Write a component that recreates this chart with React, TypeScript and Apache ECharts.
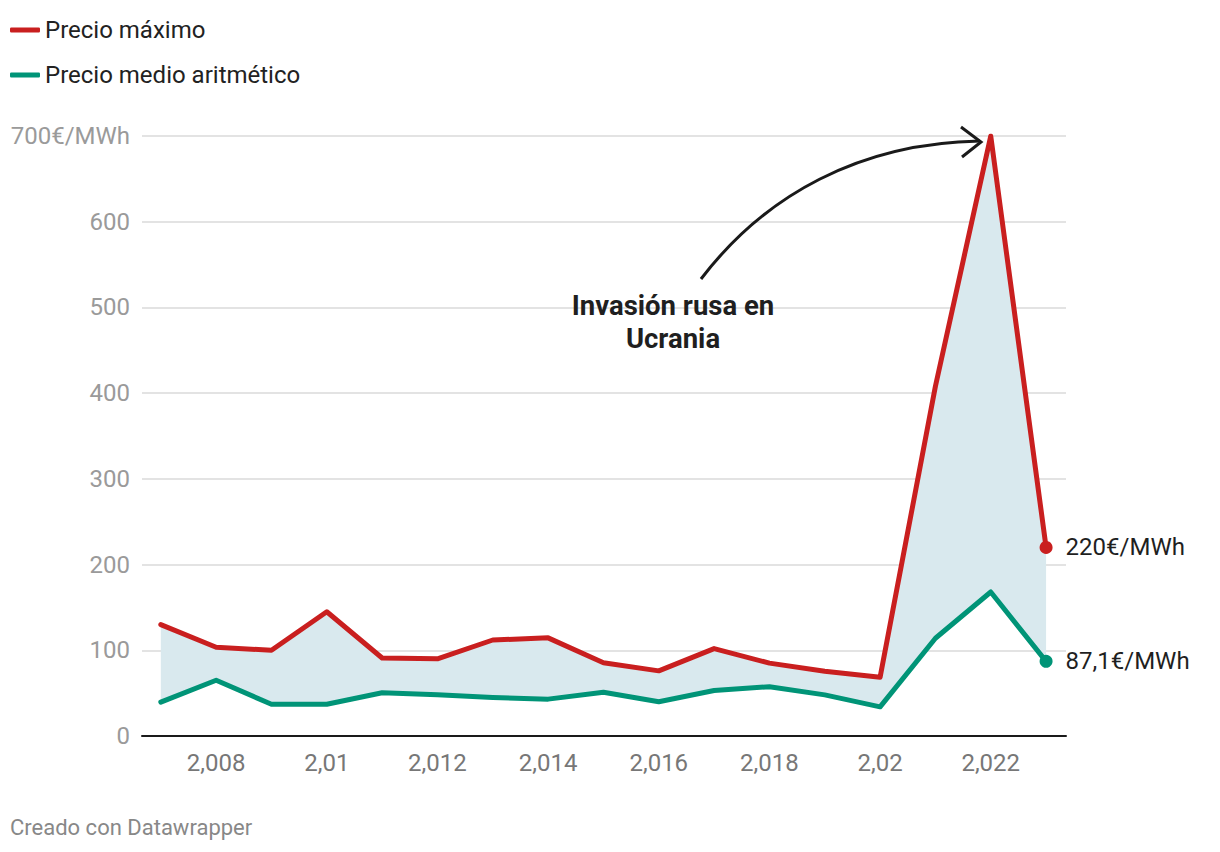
import React, { useEffect, useRef } from "react";
import * as echarts from "echarts";

const years = [2007, 2008, 2009, 2010, 2011, 2012, 2013, 2014, 2015, 2016, 2017, 2018, 2019, 2020, 2021, 2022, 2023];
const precioMaximo = [130, 103.5, 100, 145, 91, 90, 112, 114.5, 85.5, 76, 102, 85, 75.5, 68.5, 408, 700, 220];
const precioMedio = [39.5, 65, 37, 37, 50.5, 48, 45, 43, 51, 40, 53, 57.5, 48, 34, 114, 168, 87.1];
const xTickValues = [2008, 2010, 2012, 2014, 2016, 2018, 2020, 2022];
const xTickLabels = ["2,008", "2,01", "2,012", "2,014", "2,016", "2,018", "2,02", "2,022"];
const endLabels = ["220€/MWh", "87,1€/MWh"];
const seriesNames = ["Precio máximo", "Precio medio aritmético"];

const RED = "#c91f1f";
const GREEN = "#009477";
const FONT = "Roboto, 'Noto Sans', sans-serif";

export default function App() {
  const ref = useRef<HTMLDivElement>(null);
  useEffect(() => {
    document.body.style.margin = "0";
    if (!ref.current) return;
    const chart = echarts.init(ref.current, undefined, { renderer: "svg" });
    const last = years.length - 1;
    const option: any = {
      animation: false,
      textStyle: { fontFamily: FONT },
      legend: {
        data: seriesNames,
        orient: "vertical",
        left: 5,
        top: 13,
        itemWidth: 30,
        itemHeight: 5,
        itemGap: 21,
        itemTextGap: 11,
        icon: "roundRect",
        textStyle: { fontSize: 24, color: "#222", fontFamily: FONT },
        selectedMode: false,
      },
      grid: { left: 142, right: 154, top: 136, bottom: 116, containLabel: false },
      xAxis: {
        type: "value",
        min: 2006.66,
        max: 2023.36,
        axisLine: { show: true, lineStyle: { color: "#1a1a1a", width: 2 } },
        axisTick: { show: false },
        splitLine: { show: false },
        axisLabel: {
          customValues: xTickValues,
          formatter: (v: number) => {
            const i = xTickValues.indexOf(Math.round(v));
            return i >= 0 ? xTickLabels[i] : "";
          },
          color: "#777",
          fontSize: 24,
          margin: 15,
          fontFamily: FONT,
        },
      },
      yAxis: {
        type: "value",
        min: 0,
        max: 700,
        interval: 100,
        axisLine: { show: false },
        axisTick: { show: false },
        splitLine: { lineStyle: { color: "#e3e3e3", width: 2 } },
        axisLabel: {
          formatter: (v: number) => (v === 700 ? "700€/MWh" : String(v)),
          color: "#9a9a9a",
          fontSize: 24,
          margin: 12,
          fontFamily: FONT,
        },
      },
      series: [
        {
          name: "band",
          type: "custom",
          silent: true,
          z: 1,
          data: [0],
          renderItem: (params: any, api: any) => {
            const top = years.map((y, i) => api.coord([y, precioMaximo[i]]));
            const bottom = years.map((y, i) => api.coord([y, precioMedio[i]])).reverse();
            return {
              type: "polygon",
              shape: { points: top.concat(bottom) },
              style: { fill: "#d9e9ee", stroke: "none" },
            };
          },
        },
        {
          name: seriesNames[0],
          type: "line",
          data: years.map((y, i) => [y, precioMaximo[i]]),
          symbol: "none",
          color: RED,
          lineStyle: { color: RED, width: 5, join: "round", cap: "round" },
          z: 3,
        },
        {
          name: seriesNames[1],
          type: "line",
          data: years.map((y, i) => [y, precioMedio[i]]),
          symbol: "none",
          color: GREEN,
          lineStyle: { color: GREEN, width: 5, join: "round", cap: "round" },
          z: 3,
        },
        {
          name: "ends",
          type: "scatter",
          symbol: "circle",
          symbolSize: 13,
          z: 4,
          itemStyle: { opacity: 1 },
          data: [
            {
              value: [years[last], precioMaximo[last]],
              itemStyle: { color: RED, opacity: 1 },
              label: { formatter: endLabels[0] },
            },
            {
              value: [years[last], precioMedio[last]],
              itemStyle: { color: GREEN, opacity: 1 },
              label: { formatter: endLabels[1] },
            },
          ],
          label: {
            show: true,
            position: "right",
            distance: 13,
            color: "#1f1f1f",
            fontSize: 24,
            fontFamily: FONT,
          },
        },
      ],
      graphic: [
        {
          type: "bezierCurve",
          shape: { x1: 701, y1: 279, cpx1: 765, cpy1: 195, cpx2: 860, cpy2: 143, x2: 980, y2: 141 },
          style: { stroke: "#1a1a1a", lineWidth: 3, fill: "none" },
          z: 10,
        },
        {
          type: "polyline",
          shape: { points: [[961, 127], [981, 142], [962, 157]] },
          style: { stroke: "#1a1a1a", lineWidth: 3, fill: "none" },
          z: 10,
        },
        {
          type: "text",
          x: 673,
          y: 322,
          style: {
            text: "Invasión rusa en\nUcrania",
            fontSize: 27.5,
            fontWeight: "bold",
            lineHeight: 33,
            fill: "#1f1f1f",
            align: "center",
            verticalAlign: "middle",
            fontFamily: FONT,
          },
          z: 10,
        },
        {
          type: "text",
          left: 10,
          top: 816,
          style: {
            text: "Creado con Datawrapper",
            fontSize: 22,
            fill: "#888",
            fontFamily: FONT,
          },
        },
      ],
    };
    chart.setOption(option);
    return () => chart.dispose();
  }, []);
  return <div ref={ref} style={{ width: 1220, height: 852 }} />;
}
